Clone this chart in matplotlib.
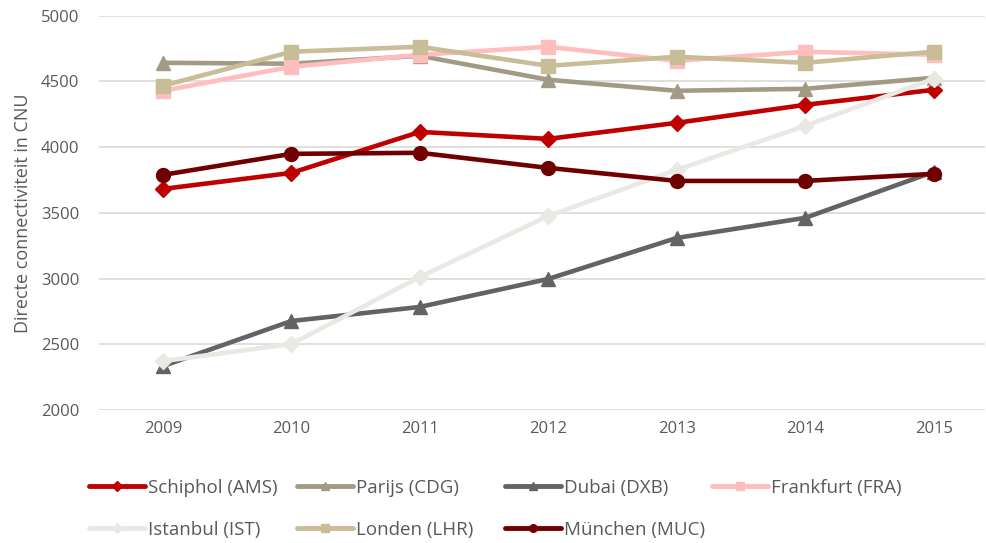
import numpy as np
import matplotlib.pyplot as plt
from matplotlib.lines import Line2D

plt.rcParams['font.family'] = ['Open Sans', 'DejaVu Sans']

# data
years = ['2009', '2010', '2011', '2012', '2013', '2014', '2015']
schiphol = [3682, 3804, 4116, 4063, 4185, 4322, 4436]
parijs = [4642, 4635, 4695, 4513, 4429, 4444, 4528]
dubai = [2334, 2677, 2784, 2997, 3309, 3462, 3812]
frankfurt = [4429, 4612, 4703, 4764, 4657, 4726, 4703]
istanbul = [2372, 2502, 3012, 3477, 3827, 4162, 4520]
londen = [4467, 4726, 4764, 4619, 4688, 4642, 4726]
munchen = [3789, 3949, 3957, 3842, 3743, 3743, 3797]

series = [
    ('Schiphol (AMS)', schiphol, '#C00000', 'D', 8.5),
    ('Parijs (CDG)', parijs, '#A39A86', '^', 10),
    ('Dubai (DXB)', dubai, '#636363', '^', 10),
    ('Frankfurt (FRA)', frankfurt, '#FFBDBD', 's', 10),
    ('Istanbul (IST)', istanbul, '#EAE8E3', 'D', 8.5),
    ('Londen (LHR)', londen, '#C8BD97', 's', 10),
    ('München (MUC)', munchen, '#700000', 'o', 10),
]

# legend slots (pixel positions of the handle start, row centre)
legend_pos = [(89, 488), (297, 488), (505, 488), (712, 488),
              (89, 530), (297, 530), (505, 530)]

text_col = '#595959'
W, H = 987, 543

fig = plt.figure(figsize=(W / 100, H / 100), dpi=100)
ax = fig.add_axes([0.100, 0.245, 0.898, 0.726])

x = np.arange(len(years))
for label, vals, col, mk, ms in series:
    ax.plot(x, vals, color=col, lw=3.3, marker=mk, markersize=ms,
            markeredgecolor=col, label=label, solid_capstyle='round')

ax.set_ylim(2000, 5000)
ax.set_yticks(np.arange(2000, 5001, 500))
ax.set_xlim(-0.5, 6.4)
ax.set_xticks(x)
ax.set_xticklabels(years)
ax.grid(axis='y', color='#D9D9D9', lw=1.2)
ax.set_axisbelow(True)
for s in ax.spines.values():
    s.set_visible(False)
ax.tick_params(length=0, labelsize=12, colors=text_col, pad=8)
ax.tick_params(axis='y', pad=14)
ax.set_ylabel('Directe connectiviteit in CNU', fontsize=13, color=text_col, labelpad=6)

# legend, one entry per slot so the columns are evenly spaced
for (label, vals, col, mk, ms), (px, py) in zip(series, legend_pos):
    h = Line2D([], [], color=col, lw=3.5, marker=mk, markersize=5.5,
               markeredgecolor=col, solid_capstyle='round')
    fig.legend(handles=[h], labels=[label], loc='center left',
               bbox_to_anchor=(px / W, 1 - py / H), frameon=False,
               fontsize=13.5, labelcolor=text_col, borderpad=0,
               borderaxespad=0, handlelength=3.0, handletextpad=0.15)

fig.savefig('out.png', dpi=100)
